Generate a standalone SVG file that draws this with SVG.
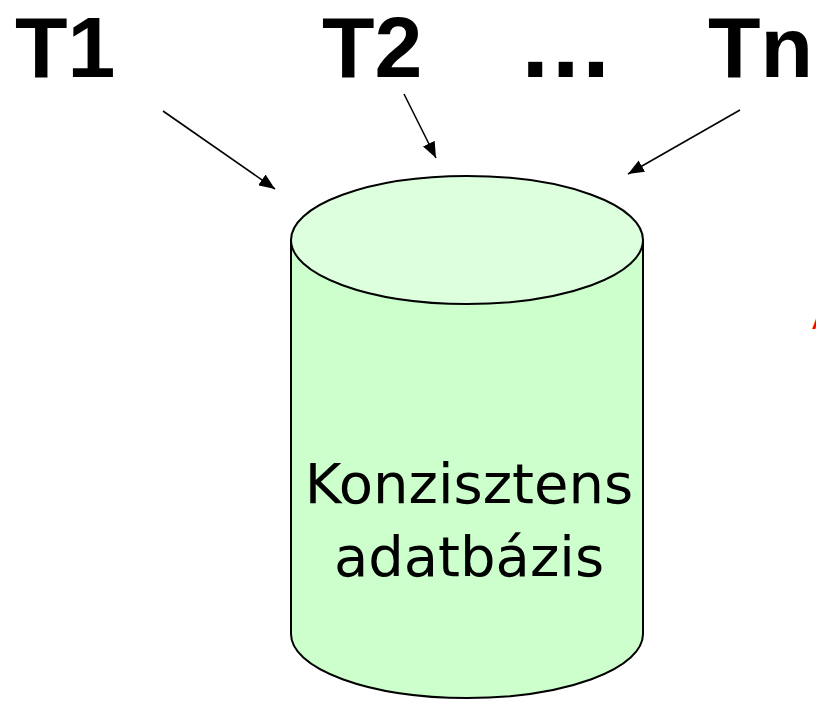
<svg xmlns="http://www.w3.org/2000/svg" width="816" height="701" viewBox="0 0 816 701">
<defs>
<style>
.lbl{font-family:"Liberation Sans",Arial,sans-serif;font-weight:bold;font-size:86px;fill:#000}
.dots{font-family:"DejaVu Sans",Verdana,sans-serif;font-weight:bold;font-size:80px;fill:#000}
.body{font-family:"DejaVu Sans",Verdana,sans-serif;font-size:56px;fill:#000}
.conn{stroke:#000;stroke-width:1.6;fill:none;marker-end:url(#ah)}
</style>
<marker id="ah" viewBox="0 0 10 10" refX="10" refY="5" markerWidth="16" markerHeight="13" markerUnits="userSpaceOnUse" orient="auto" preserveAspectRatio="none">
<path d="M0,0 L10,5 L0,10 z" fill="#000"/>
</marker>
</defs>
<rect width="816" height="701" fill="#fff"/>
<g id="T1"><text class="lbl" x="15" y="77">T1</text></g>
<g id="T2"><text class="lbl" x="322" y="77">T2</text></g>
<g id="dots"><text class="dots" x="520" y="77">...</text></g>
<g id="Tn"><text class="lbl" x="708" y="77">Tn</text></g>
<g id="db">
<path d="M291,240 L291,634 A176,64 0 0 0 643,634 L643,240 Z" fill="#CCFFCC" stroke="#000" stroke-width="2"/>
<ellipse cx="467" cy="240" rx="176" ry="64" fill="#DDFFDD" stroke="#000" stroke-width="2"/>
<text class="body" x="469" y="503" text-anchor="middle">Konzisztens</text>
<text class="body" x="469" y="576" text-anchor="middle">adatbázis</text>
</g>
<g id="connectors">
<line class="conn" x1="163" y1="111" x2="275" y2="189"/>
<line class="conn" x1="404" y1="94" x2="436" y2="158"/>
<line class="conn" x1="740" y1="110" x2="628" y2="174"/>
</g>
<text x="812" y="329" font-family="DejaVu Sans,sans-serif" font-size="30" fill="#FF0000">A</text>
</svg>
